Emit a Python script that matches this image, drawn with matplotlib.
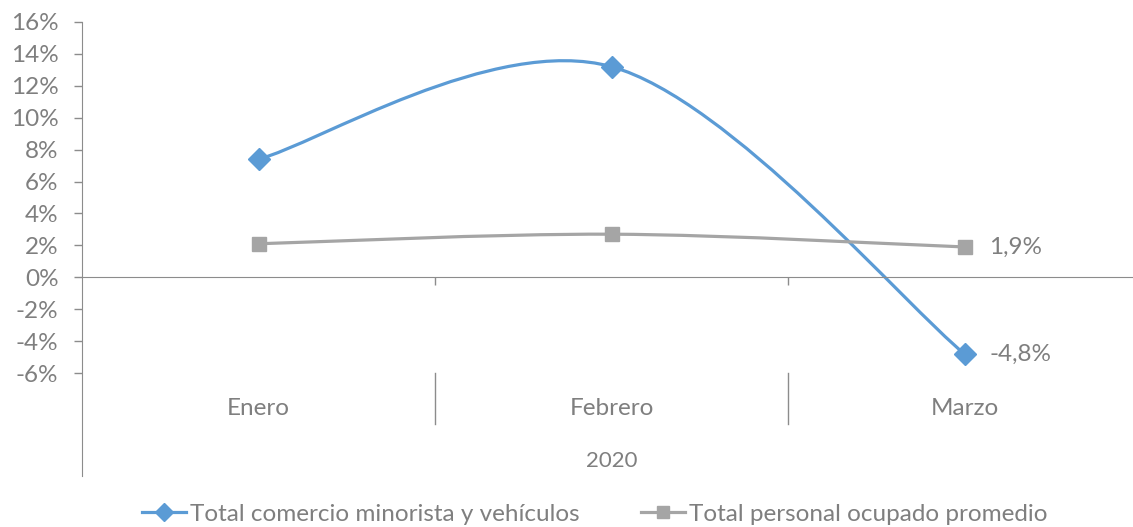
import numpy as np
import matplotlib
matplotlib.use("Agg")
from matplotlib import pyplot as plt
from matplotlib.path import Path
from matplotlib.patches import PathPatch
from matplotlib.lines import Line2D
from matplotlib.ticker import FuncFormatter
import matplotlib.transforms as mtransforms

# data
months = ["Enero", "Febrero", "Marzo"]
year_label = "2020"
comercio = [7.4, 13.2, -4.8]
personal = [2.1, 2.7, 1.9]
comercio_name = "Total comercio minorista y vehículos"
personal_name = "Total personal ocupado promedio"

blue = "#5B9BD5"
gray = "#A5A5A5"
text_gray = "#7F7F7F"
axis_gray = "#8C8C8C"

plt.rcParams["font.family"] = ["Lato", "DejaVu Sans"]
FS = 17.5


def smooth_path(xs, ys):
    # excel-like smoothed line: cubic bezier segments (catmull-rom control points)
    pts = np.column_stack([xs, ys]).astype(float)
    n = len(pts)
    verts = [pts[0]]
    codes = [Path.MOVETO]
    for i in range(n - 1):
        p_prev = pts[i - 1] if i > 0 else pts[i]
        p_next2 = pts[i + 2] if i + 2 < n else pts[i + 1]
        c1 = pts[i] + (pts[i + 1] - p_prev) / 6.0
        c2 = pts[i + 1] - (p_next2 - pts[i]) / 6.0
        verts += [c1, c2, pts[i + 1]]
        codes += [Path.CURVE4] * 3
    return Path(verts, codes)


fig = plt.figure(figsize=(11.33, 5.27), dpi=100)
ax = fig.add_axes([82 / 1133, 154 / 527, 1059 / 1133, 351 / 527])

x = np.arange(len(months))

for vals, col in [(comercio, blue), (personal, gray)]:
    patch = PathPatch(smooth_path(x, vals), facecolor="none", edgecolor=col,
                      lw=2.3, capstyle="round", joinstyle="round", zorder=2)
    ax.add_patch(patch)

ax.plot(x, comercio, linestyle="none", marker="D", ms=11.5, color=blue, zorder=3)
ax.plot(x, personal, linestyle="none", marker="s", ms=10.5, color=gray, zorder=3)

# data labels on the last point
for vals in [personal, comercio]:
    ax.annotate(f"{vals[-1]:.1f}%".replace(".", ","), (x[-1], vals[-1]),
                xytext=(18, 0), textcoords="offset points",
                ha="left", va="center", fontsize=FS, color=text_gray)

ax.set_xlim(-0.5, 2.5)
ax.set_ylim(-6, 16)
ax.set_yticks(np.arange(-6, 17, 2))
ax.yaxis.set_major_formatter(FuncFormatter(lambda v, p: f"{v:.0f}%"))
ax.tick_params(axis="y", direction="out", length=6, width=1, color=axis_gray,
               labelcolor=text_gray, labelsize=FS, pad=11)

for s in ["top", "right"]:
    ax.spines[s].set_visible(False)
ax.spines["left"].set_color(axis_gray)
ax.spines["left"].set_bounds(-12.44, 16)
ax.spines["bottom"].set_position(("data", 0))
ax.spines["bottom"].set_color(axis_gray)

ax.set_xticks([0.5, 1.5])
ax.set_xticklabels([])
ax.tick_params(axis="x", direction="out", length=6, width=1, color=axis_gray)

# category labels below the plot area
trans = mtransforms.blended_transform_factory(ax.transData, ax.transAxes)
for i, m in enumerate(months):
    ax.text(i, -0.10, m, transform=trans, ha="center", va="center",
            fontsize=FS, color=text_gray)
for sep in [0.5, 1.5]:
    ax.plot([sep, sep], [0, -0.145], transform=trans, color=axis_gray,
            lw=1, clip_on=False)
ax.text(1, -0.251, year_label, transform=trans, ha="center", va="center",
        fontsize=FS - 1.5, color=text_gray)

handles = [
    Line2D([], [], color=blue, lw=2.3, marker="D", ms=9),
    Line2D([], [], color=gray, lw=2.3, marker="s", ms=9),
]
fig.legend(handles, [comercio_name, personal_name], loc="center",
           bbox_to_anchor=(0.525, 13 / 527), ncol=2, frameon=False,
           fontsize=FS, labelcolor=text_gray, handlelength=1.8,
           handletextpad=0.2, columnspacing=2.5)

fig.savefig("out.png", dpi=100)
